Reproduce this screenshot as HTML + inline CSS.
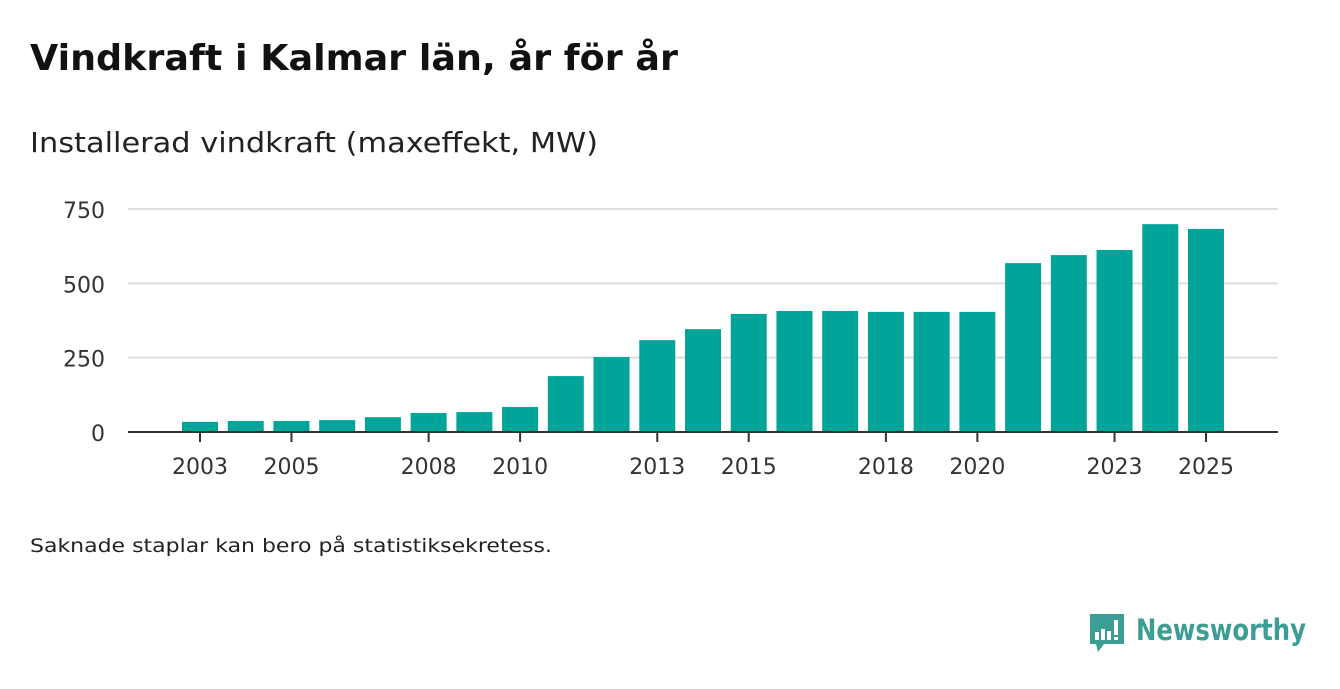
<!DOCTYPE html>
<html><head><meta charset="utf-8"><style>
body{margin:0;background:#fff;width:1340px;height:685px;overflow:hidden;font-family:"DejaVu Sans","Liberation Sans",sans-serif;}
</style></head><body>
<svg width="1340" height="685" xmlns="http://www.w3.org/2000/svg">
<text x="30" y="70" font-size="36" font-weight="bold" fill="#111" textLength="648" lengthAdjust="spacingAndGlyphs">Vindkraft i Kalmar län, år för år</text>
<text x="30" y="152" font-size="28" fill="#222" textLength="568" lengthAdjust="spacingAndGlyphs">Installerad vindkraft (maxeffekt, MW)</text>
<g id="grid"></g><g id="bars"></g><g id="xaxis"></g>
<text x="30" y="552" font-size="19" fill="#222" textLength="522" lengthAdjust="spacingAndGlyphs">Saknade staplar kan bero på statistiksekretess.</text>
<g>
<path d="M1090 614h34v30h-20l-6 8l-2-8h-6z" fill="#3a9e95"/>
<rect x="1095" y="632" width="4" height="8" fill="#fff"/><rect x="1101" y="629" width="4" height="11" fill="#fff"/><rect x="1107" y="631" width="4" height="9" fill="#fff"/><rect x="1114" y="620" width="4" height="15" fill="#fff"/><rect x="1114" y="637" width="4" height="3" fill="#fff"/>
<text x="1136" y="640" font-size="29" font-weight="bold" fill="#3a9e95" textLength="170" lengthAdjust="spacingAndGlyphs">Newsworthy</text>
</g>
</svg>
<script>
const years=[2003,2004,2005,2006,2007,2008,2009,2010,2011,2012,2013,2014,2015,2016,2017,2018,2019,2020,2021,2022,2023,2024,2025];
const values=[34,37,37,40,50,64,67,84,188,252,309,346,397,407,407,404,404,404,568,595,612,699,683];
const yTicks=[0,250,500,750];
const xLabels=[2003,2005,2008,2010,2013,2015,2018,2020,2023,2025];
const NS="http://www.w3.org/2000/svg";
const y=v=>432-v*(223/750);
const x=yr=>200+(yr-2003)*(1006/22);
function mk(t,a,p){const e=document.createElementNS(NS,t);for(const k in a)e.setAttribute(k,a[k]);p.appendChild(e);return e;}
const g=document.getElementById('grid'),b=document.getElementById('bars'),xa=document.getElementById('xaxis');
yTicks.forEach(t=>{
 if(t>0){const l=mk('line',{x1:128,x2:1278,y1:y(t),y2:y(t),stroke:'#ddd','stroke-width':2},g);
 
 }
 const tx=mk('text',{x:105,y:y(t)+9,'font-size':22,fill:'#333','text-anchor':'end'},g);tx.textContent=t;
 
 
});
years.forEach((yr,i)=>{
 const r=mk('rect',{x:x(yr)-18,y:y(values[i]),width:36,height:432-y(values[i]),fill:'#00a499'},b);
 
 
});
const ax=mk('line',{x1:128,x2:1278,y1:432,y2:432,stroke:'#333','stroke-width':2},xa);


xLabels.forEach(yr=>{
 mk('line',{x1:x(yr),x2:x(yr),y1:432,y2:442,stroke:'#333','stroke-width':2},xa);
 const t=mk('text',{x:x(yr),y:474,'font-size':22,fill:'#333','text-anchor':'middle'},xa);t.textContent=yr;
 
 
});
</script>
</body></html>
